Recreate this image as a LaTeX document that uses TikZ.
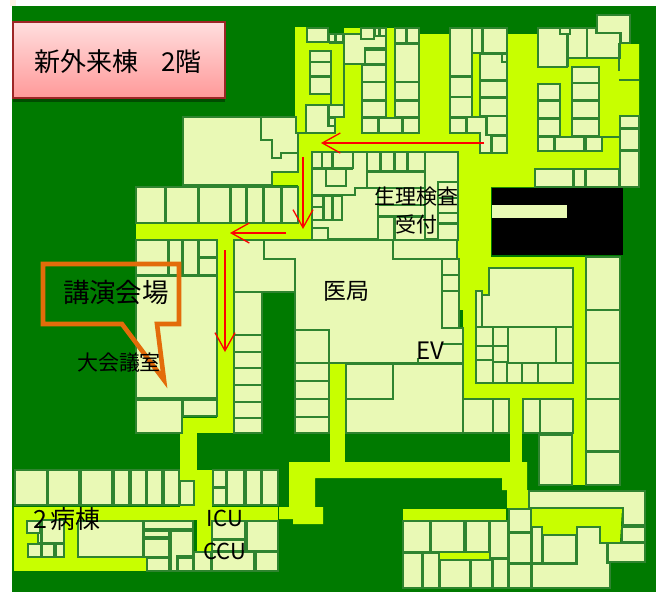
\documentclass[tikz,border=0pt]{standalone}
\usepackage{fontspec}
\setmainfont{Noto Sans CJK JP}
\usetikzlibrary{arrows.meta}
\definecolor{ground}{HTML}{007A00}
\definecolor{hall}{HTML}{C8FF00}
\definecolor{roomfill}{HTML}{E9F9B5}
\definecolor{wall}{HTML}{2F842F}
\definecolor{callout}{HTML}{E36C0A}
\tikzset{
  room/.style={fill=roomfill,draw=wall,line width=1.4pt,line join=miter},
  wallline/.style={draw=wall,line width=1.4pt},
  hallway/.style={fill=hall,draw=none},
  route/.style={draw=red,line width=1.3pt,-{Straight Barb[length=18pt,width=20pt,line width=1.3pt]}},
  lbl/.style={inner sep=0pt,text=black}
}
\newcommand\Rm[4]{\draw[room] (#1,#2) rectangle (#3,#4);}
\newcommand\Hl[4]{\fill[hallway] (#1,#2) rectangle (#3,#4);}
\begin{document}
\begin{tikzpicture}[x=1pt,y=-1pt]
\useasboundingbox (0,0) rectangle (662,592);
\fill[white] (0,0) rectangle (662,592);
\fill[orange!10] (10,0) rectangle (16,6);
\fill[ground] (12,6) rectangle (656,592);
% ---- hallways ----
\fill[hallway] (295,27)--(328,27)--(328,34)--(344,34)--(344,28)--(419,28)--(419,34)--(450,34)--(450,28)--(507,28)--(507,34)--(538,34)--(538,28)--(620,28)--(620,44)--(639,44)--(639,187)--(458,187)--(458,152)--(312,152)--(312,239)--(136,239)--(136,224)--(298,224)--(298,185)--(272,185)--(272,173)--(298,173)--(298,133)--(295,133)--cycle;
\Hl{458}{187}{491}{310}
\Hl{463}{310}{476}{398}
\Hl{463}{383}{586}{398}
\Hl{491}{257}{586}{267}
\Hl{573}{257}{586}{485}
\Hl{510}{398}{522}{464}
\Hl{330}{363}{345}{464}
\fill[hallway] (289,462)--(527,462)--(527,490)--(502,490)--(502,478)--(315,478)--(315,507)--(323,507)--(323,524)--(293,524)--(293,519)--(279,519)--(279,507)--(289,507)--cycle;
\Hl{507}{490}{528}{508}
\Hl{217}{239}{234}{433}
\Hl{183}{418}{234}{433}
\Hl{180}{433}{197}{507}
\Hl{197}{470}{212}{553}
\Hl{14}{507}{278}{520}
\Hl{14}{507}{146}{571}
\Hl{403}{509}{506}{520}
\fill[hallway] (532,509)--(622,509)--(620,542)--(601,542)--(601,527)--(577,527)--(577,534)--(543,534)--(543,527)--(532,527)--cycle;
\Hl{440}{553}{489}{559}
% ---- upper wing, west ----
\Rm{307}{28}{328}{42}\Rm{329}{34}{335}{42}\Rm{336}{34}{343}{42}
\draw[room] (344,34)--(361,34)--(361,39)--(374,39)--(374,36)--(386,36)--(386,48)--(365,48)--(365,64)--(344,64)--cycle;
\Rm{361}{28}{374}{39}\Rm{375}{28}{379}{36}\Rm{380}{28}{386}{36}
\Rm{365}{50}{386}{64}\Rm{362}{65}{386}{82}\Rm{362}{82}{386}{100}\Rm{362}{101}{386}{117}
\Rm{362}{118}{378}{133}\Rm{379}{118}{402}{133}\Rm{403}{118}{419}{133}
\Rm{395}{28}{406}{43}\Rm{407}{28}{419}{43}
\Rm{395}{44}{419}{82}\Rm{395}{82}{419}{100}\Rm{395}{101}{419}{117}
\Rm{310}{51}{331}{62}\Rm{310}{62}{331}{76}\Rm{310}{77}{331}{94}
\coordinate (wc) at (344,64); \coordinate (wd) at (344,105);
\draw[wallline] (wc)--(wd);
\draw[wallline] (329,43)--(344,43);
\draw[wallline] (331,94)--(331,105);
\draw[wallline] (296,133)--(306,133);
\Rm{329}{105}{344}{117}
\draw[room] (306,105)--(328,105)--(328,126)--(335,126)--(335,133)--(306,133)--cycle;
\Rm{329}{118}{335}{126}
% ---- upper wing, middle ----
\Rm{450}{28}{472}{76}\Rm{450}{77}{472}{97}\Rm{450}{97}{472}{117}
\Rm{472}{28}{482}{53}\Rm{483}{28}{507}{53}
\Rm{480}{54}{507}{80}\Rm{502}{54}{507}{62}
\Rm{480}{81}{507}{97}\Rm{480}{98}{507}{116}
\Rm{450}{118}{466}{133}
\draw[room] (467,117)--(486,117)--(486,135)--(491,135)--(491,153)--(480,153)--(480,133)--(467,133)--cycle;
\Rm{487}{116}{507}{135}\Rm{492}{136}{507}{153}
% ---- upper wing, east ----
\Rm{538}{28}{567}{67}
\Rm{568}{28}{587}{58}
\Rm{560}{28}{570}{34}
\draw[room] (587,28)--(596,28)--(596,33)--(620,33)--(620,58)--(587,58)--cycle;
\draw[room] (597,15)--(630,15)--(630,43)--(621,43)--(621,33)--(597,33)--cycle;
\draw[wallline] (568,58)--(568,67);
\draw[wallline] (619,43)--(619,71);
\draw[wallline] (619,80)--(639,80);
\draw[wallline] (602,137)--(619,137);
\Rm{538}{84}{560}{100}\Rm{538}{101}{560}{118}\Rm{538}{119}{560}{136}
\Rm{572}{67}{599}{83}\Rm{572}{83}{599}{100}\Rm{572}{101}{599}{118}\Rm{572}{119}{599}{136}
\Rm{538}{137}{554}{151}\Rm{555}{137}{584}{151}\Rm{586}{137}{602}{151}
\Rm{620}{116}{639}{128}\Rm{620}{129}{639}{150}\Rm{620}{151}{639}{187}
\Rm{535}{169}{573}{187}\Rm{574}{169}{585}{187}\Rm{586}{169}{619}{187}
% ---- black block ----
\fill[black] (492,188) rectangle (623,255);
\fill[roomfill] (492,205) rectangle (567,218);
% ---- central block under the corridor ----
\Rm{312}{152}{458}{239}
\Rm{312}{152}{322}{168}\Rm{322}{152}{332}{168}\Rm{333}{152}{353}{168}
\Rm{326}{169}{346}{186}
\draw[wallline] (312,169)--(353,169);
\Rm{367}{152}{380}{171}\Rm{381}{152}{394}{171}\Rm{395}{152}{407}{171}\Rm{408}{152}{425}{171}
\Rm{367}{172}{425}{188}
\draw[wallline] (312,195)--(355,195)--(355,188)--(367,188);
\draw[wallline] (425,152)--(425,240);
\Rm{438}{182}{458}{198}\Rm{438}{198}{458}{213}\Rm{438}{213}{458}{223}\Rm{438}{224}{458}{240}
\draw[wallline] (378,188)--(378,240);
\Rm{378}{205}{425}{216}
\Rm{378}{217}{394}{240}\Rm{395}{217}{425}{240}
\Rm{312}{196}{323}{207}\Rm{312}{207}{323}{220}\Rm{324}{196}{332}{220}\Rm{333}{196}{342}{220}
\Rm{312}{228}{328}{240}
% ---- west block ----
\draw[room] (183,117)--(261,117)--(261,140)--(272,140)--(272,158)--(281,158)--(281,153)--(298,153)--(298,172)--(272,172)--(272,185)--(183,185)--cycle;
\draw[room] (261,117)--(296,117)--(296,133)--(298,133)--(298,153)--(281,153)--(281,158)--(272,158)--(272,140)--(261,140)--cycle;
\Rm{136}{187}{165}{223}\Rm{166}{187}{198}{223}\Rm{199}{187}{230}{223}\Rm{231}{187}{246}{223}\Rm{247}{187}{263}{223}\Rm{264}{187}{281}{223}\Rm{282}{187}{298}{223}
\Rm{136}{240}{168}{275}\Rm{169}{240}{182}{275}\Rm{183}{240}{198}{275}\Rm{199}{240}{217}{257}\Rm{199}{258}{217}{275}
\Rm{136}{276}{217}{398}
\Rm{136}{400}{182}{433}\Rm{183}{400}{217}{416}
\draw[room] (234,240)--(264,240)--(264,259)--(295,259)--(295,292)--(234,292)--cycle;
\Rm{234}{292}{262}{335}\Rm{234}{335}{262}{352}\Rm{234}{352}{262}{368}\Rm{234}{368}{262}{385}\Rm{234}{385}{262}{402}\Rm{234}{402}{262}{418}\Rm{234}{418}{262}{433}
% ---- doctors' area ----
\draw[room] (264,240)--(393,240)--(393,259)--(442,259)--(442,328)--(463,328)--(463,363)--(329,363)--(329,330)--(295,330)--(295,259)--(264,259)--cycle;
\draw[wallline] (442,344)--(463,344);
\draw[wallline] (418,358)--(418,363);
\Rm{393}{240}{457}{259}
\Rm{442}{259}{459}{275}\Rm{442}{275}{459}{291}\Rm{442}{291}{459}{328}
\Rm{295}{330}{329}{363}\Rm{295}{363}{329}{381}\Rm{295}{381}{329}{399}\Rm{295}{399}{329}{417}\Rm{295}{417}{329}{433}
\draw[room] (346,364)--(463,364)--(463,433)--(346,433)--cycle;
\Rm{346}{364}{393}{399}
% ---- east rooms ----
\draw[room] (489,268)--(573,268)--(573,327)--(482,327)--(482,295)--(489,295)--cycle;
\Rm{476}{291}{482}{327}
\Rm{476}{327}{493}{346}\Rm{493}{327}{508}{346}\Rm{476}{346}{493}{360}\Rm{493}{346}{508}{362}
\Rm{508}{327}{556}{363}\Rm{556}{327}{573}{363}
\Rm{476}{360}{493}{383}\Rm{493}{362}{507}{383}\Rm{507}{363}{522}{383}\Rm{522}{363}{538}{383}\Rm{538}{363}{573}{383}
\Rm{463}{399}{493}{433}\Rm{493}{399}{509}{433}\Rm{523}{399}{540}{433}\Rm{540}{399}{573}{433}
\Rm{539}{435}{572}{485}
\Rm{586}{257}{620}{310}\Rm{586}{310}{620}{363}\Rm{586}{363}{620}{399}\Rm{586}{399}{620}{451}\Rm{586}{452}{620}{485}
% ---- ward 2 ----
\Rm{15}{470}{47}{505}\Rm{48}{470}{79}{505}\Rm{81}{470}{112}{505}\Rm{114}{470}{129}{505}\Rm{131}{470}{146}{505}\Rm{147}{470}{162}{505}\Rm{164}{470}{179}{505}\Rm{180}{481}{194}{505}
\Rm{213}{470}{226}{487}\Rm{213}{488}{226}{505}\Rm{227}{470}{244}{505}\Rm{246}{470}{261}{505}\Rm{262}{470}{278}{505}
\Rm{78}{521}{143}{557}
\Rm{27}{521}{40}{533}\Rm{42}{520}{64}{543}\Rm{38}{533}{41}{543}
\Rm{28}{544}{41}{557}\Rm{42}{544}{54}{557}\Rm{56}{544}{64}{557}
\Rm{144}{521}{193}{529}\Rm{144}{531}{169}{537}\Rm{144}{539}{169}{557}
\draw[room] (171,531)--(193,531)--(193,556)--(177,556)--(177,571)--(171,571)--cycle;
\Rm{147}{558}{169}{571}\Rm{178}{558}{193}{571}\Rm{194}{552}{211}{571}\Rm{212}{552}{254}{571}\Rm{256}{552}{278}{571}
\Rm{212}{521}{245}{539}\Rm{212}{540}{245}{551}\Rm{247}{521}{278}{551}
% ---- south-east block ----
\draw[room] (529,491)--(645,491)--(645,525)--(623,525)--(623,508)--(529,508)--cycle;
\Rm{403}{521}{430}{552}\Rm{431}{521}{464}{552}\Rm{466}{521}{489}{552}\Rm{490}{521}{508}{558}
\Rm{403}{553}{422}{588}\Rm{423}{553}{439}{588}
\Rm{440}{560}{470}{588}\Rm{471}{560}{492}{588}\Rm{493}{559}{508}{588}
\Rm{509}{509}{531}{532}\Rm{509}{533}{531}{563}\Rm{509}{564}{531}{588}
\Rm{532}{527}{542}{563}\Rm{543}{535}{576}{563}
\draw[room] (577,527)--(600,527)--(600,543)--(607,543)--(607,563)--(610,563)--(610,588)--(532,588)--(532,564)--(577,564)--cycle;
\Rm{622}{527}{645}{542}\Rm{608}{543}{645}{562}
% ---- title ----
\fill[black!70!green] (13,98) rectangle (225,102);
\shade[top color=red!13,bottom color=red!40] (13,22) rectangle (225,98);
\draw[draw=red!55!black!85,line width=1.4pt] (13,22) rectangle (225,98);
\node[lbl,font=\fontsize{26}{26}\selectfont] (title) at (118,62) {新外来棟\hspace{0.9em}2階};
% ---- callout ----
\coordinate (c1) at (43,264); \coordinate (c2) at (179,264); \coordinate (c3) at (179,324);
\coordinate (c4) at (157,324); \coordinate (c5) at (164,380); \coordinate (c6) at (122,324); \coordinate (c7) at (43,324);
\draw[callout,line width=4.6pt,line join=miter] (c1)--(c2)--(c3)--(c4)--(c5)--(c6)--(c7)--cycle;
% ---- route ----
\coordinate (r1a) at (484,143); \coordinate (r1b) at (321,143);
\coordinate (r2a) at (303,157); \coordinate (r2b) at (303,229);
\coordinate (r3a) at (286,233); \coordinate (r3b) at (230,233);
\coordinate (r4a) at (225,250); \coordinate (r4b) at (225,352);
\draw[route] (r1a)--(r1b);
\draw[route] (r2a)--(r2b);
\draw[route] (r3a)--(r3b);
\draw[route] (r4a)--(r4b);
% ---- labels ----
\node[lbl,font=\fontsize{21}{21}\selectfont] (seiri) at (416,197) {生理検査};
\node[lbl,font=\fontsize{21}{21}\selectfont] (uketsuke) at (416,224) {受付};
\node[lbl,font=\fontsize{23}{23}\selectfont] (ikyoku) at (346,291) {医局};
\node[lbl,font=\fontsize{24}{24}\selectfont] (ev) at (430,351) {EV};
\node[lbl,font=\fontsize{26.5}{26.5}\selectfont] (koen) at (116,292) {講演会場};
\node[lbl,font=\fontsize{21}{21}\selectfont] (daikai) at (119,363) {大会議室};
\node[lbl,anchor=west,font=\fontsize{25}{25}\selectfont] (byoto) at (33,519) {2\hspace{0.15em}病棟};
\node[lbl,font=\fontsize{22}{22}\selectfont] (icu) at (225,518) {ICU};
\node[lbl,font=\fontsize{22}{22}\selectfont] (ccu) at (225,551) {CCU};
\end{tikzpicture}
\end{document}
